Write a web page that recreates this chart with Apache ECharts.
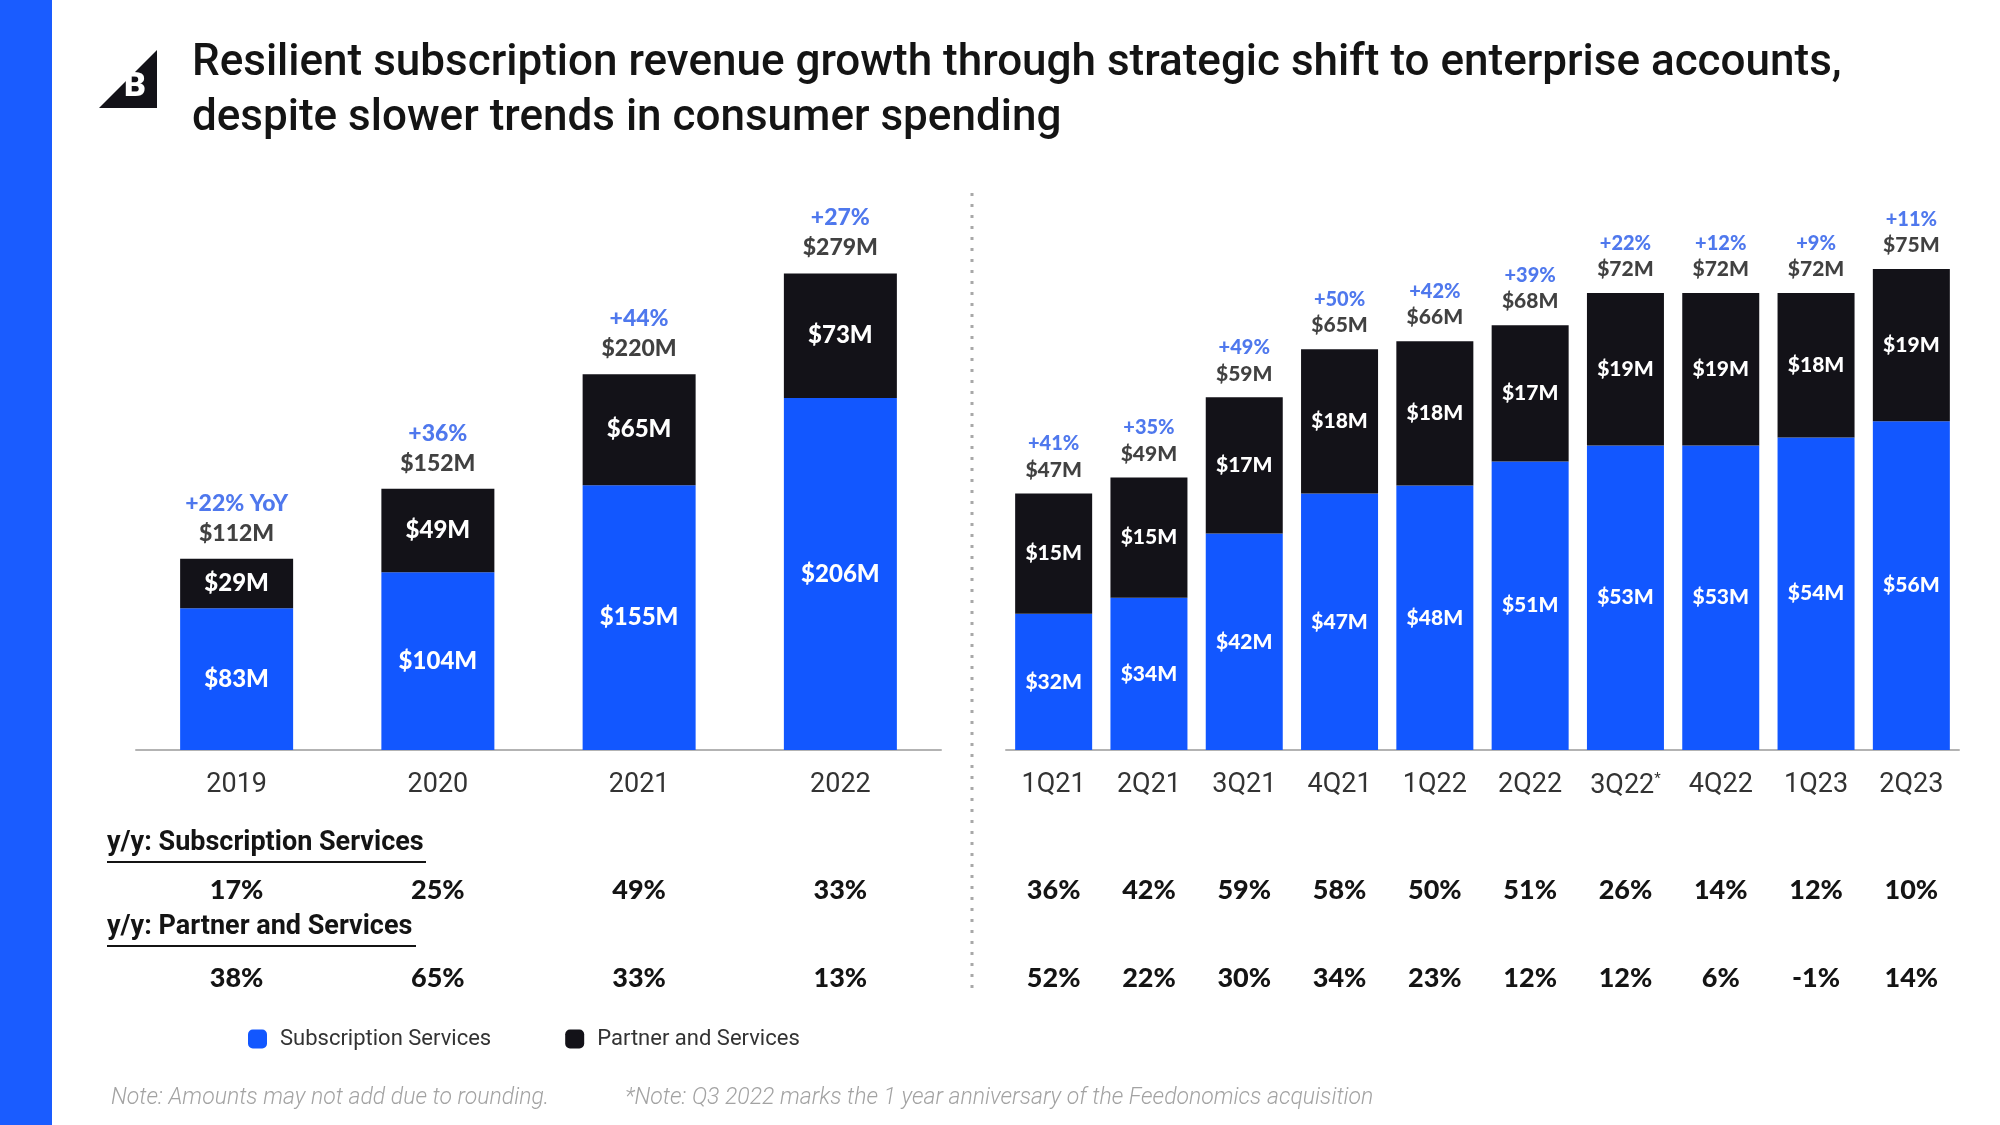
<!DOCTYPE html>
<html>
<head>
<meta charset="utf-8">
<script src="https://cdn.jsdelivr.net/npm/echarts@6/dist/echarts.min.js"></script>
<style>
html,body{margin:0;padding:0;background:#fff;}
#c{width:2000px;height:1125px;}
</style>
</head>
<body>
<div id="c"></div>
<script>
// ---------- data ----------
const yearCats = ['2019', '2020', '2021', '2022'];
const yearSub = [83, 104, 155, 206];
const yearPartner = [29, 49, 65, 73];
const yearTotal = [112, 152, 220, 279];
const yearGrowth = ['+22% YoY', '+36%', '+44%', '+27%'];
const yearSubGrowth = ['17%', '25%', '49%', '33%'];
const yearPartnerGrowth = ['38%', '65%', '33%', '13%'];

const qCats = ['1Q21', '2Q21', '3Q21', '4Q21', '1Q22', '2Q22', '3Q22', '4Q22', '1Q23', '2Q23'];
const qSub = [32, 34, 42, 47, 48, 51, 53, 53, 54, 56];
const qPartner = [15, 15, 17, 18, 18, 17, 19, 19, 18, 19];
const qTotal = [47, 49, 59, 65, 66, 68, 72, 72, 72, 75];
const qGrowth = ['+41%', '+35%', '+49%', '+50%', '+42%', '+39%', '+22%', '+12%', '+9%', '+11%'];
const qSubGrowth = ['36%', '42%', '59%', '58%', '50%', '51%', '26%', '14%', '12%', '10%'];
const qPartnerGrowth = ['52%', '22%', '30%', '34%', '23%', '12%', '12%', '6%', '-1%', '14%'];

// ---------- style ----------
const BLUE = '#1257ff';
const BLACK = '#131218';
const GBLUE = '#2356e8';
const FONT = 'Lato, Roboto, sans-serif';
const AXIS_Y = 750;

const chart = echarts.init(document.getElementById('c'), null, {renderer: 'canvas'});

function rowAxis(grid, data, centerY, fs) {
  return {
    type: 'category', gridIndex: grid, data: data, position: 'bottom',
    offset: centerY - AXIS_Y - fs / 2,
    axisLine: {show: false}, axisTick: {show: false},
    axisLabel: {margin: 0, fontSize: fs, fontWeight: 900, color: '#141414', fontFamily: FONT, interval: 0}
  };
}

function money(v) { return '$' + v + 'M'; }

const insideLabel = fs => ({
  show: true, position: 'inside', formatter: p => money(p.value),
  color: '#fff', fontSize: fs, fontWeight: 900, fontFamily: FONT
});

const option = {
  animation: false,
  backgroundColor: '#ffffff',
  title: {
    text: 'Resilient subscription revenue growth through strategic shift to enterprise accounts,\ndespite slower trends in consumer spending',
    left: 187, top: 31,
    textStyle: {fontFamily: 'Roboto, sans-serif', fontSize: 44, fontWeight: 500, color: '#141414', lineHeight: 55}
  },
  legend: {
    left: 243, top: 1023,
    itemWidth: 19, itemHeight: 19, itemGap: 74, icon: 'roundRect',
    data: ['Subscription Services', 'Partner and Services'],
    textStyle: {fontFamily: 'Roboto, sans-serif', fontSize: 22, color: '#333', padding: [0, 0, 0, 8]}
  },
  grid: [
    {left: 136, width: 805, top: AXIS_Y - 521, height: 521},
    {left: 1006, width: 953, top: AXIS_Y - 521, height: 521}
  ],
  xAxis: [
    {
      type: 'category', gridIndex: 0, data: yearCats,
      axisLine: {lineStyle: {color: '#b3b3b3', width: 2}}, axisTick: {show: false},
      axisLabel: {margin: 22, fontSize: 27, color: '#333', fontFamily: 'Roboto, sans-serif'}
    },
    {
      type: 'category', gridIndex: 1, data: qCats,
      axisLine: {lineStyle: {color: '#b3b3b3', width: 2}}, axisTick: {show: false},
      axisLabel: {
        margin: 22, fontSize: 27, color: '#333', fontFamily: 'Roboto, sans-serif', interval: 0,
        formatter: v => v === '3Q22' ? v + '{s|*}' : v,
        rich: {s: {fontSize: 15, verticalAlign: 'top', color: '#333', padding: [0, 0, 14, 0]}}
      }
    },
    rowAxis(0, yearSubGrowth, 890, 27),
    rowAxis(0, yearPartnerGrowth, 978, 27),
    rowAxis(1, qSubGrowth, 890, 27),
    rowAxis(1, qPartnerGrowth, 978, 27)
  ],
  yAxis: [
    {type: 'value', gridIndex: 0, min: 0, max: 305, show: false, splitLine: {show: false}},
    {type: 'value', gridIndex: 1, min: 15, max: 80, show: false, splitLine: {show: false}}
  ],
  series: [
    {
      name: 'Subscription Services', type: 'bar', stack: 'y', xAxisIndex: 0, yAxisIndex: 0,
      data: yearSub, barWidth: 113, itemStyle: {color: BLUE}, label: insideLabel(24)
    },
    {
      name: 'Partner and Services', type: 'bar', stack: 'y', xAxisIndex: 0, yAxisIndex: 0,
      data: yearPartner, barWidth: 113, itemStyle: {color: BLACK}, label: insideLabel(24)
    },
    {
      type: 'scatter', xAxisIndex: 0, yAxisIndex: 0, symbolSize: 1, itemStyle: {color: 'rgba(0,0,0,0)'},
      data: yearSub.map((v, i) => v + yearPartner[i]),
      label: {
        show: true, position: 'top', distance: 10,
        fontWeight: 900, fontFamily: FONT, fontSize: 23,
        formatter: p => '{g|' + yearGrowth[p.dataIndex] + '}\n{t|' + money(yearTotal[p.dataIndex]) + '}',
        rich: {
          g: {color: GBLUE, fontSize: 23, fontWeight: 900, fontFamily: FONT, lineHeight: 30},
          t: {color: '#111', fontSize: 23, fontWeight: 900, fontFamily: FONT, lineHeight: 30}
        }
      }
    },
    {
      name: 'Subscription Services', type: 'bar', stack: 'q', xAxisIndex: 1, yAxisIndex: 1,
      data: qSub, barWidth: 77, itemStyle: {color: BLUE}, label: insideLabel(21)
    },
    {
      name: 'Partner and Services', type: 'bar', stack: 'q', xAxisIndex: 1, yAxisIndex: 1,
      data: qPartner, barWidth: 77, itemStyle: {color: BLACK}, label: insideLabel(21)
    },
    {
      type: 'scatter', xAxisIndex: 1, yAxisIndex: 1, symbolSize: 1, itemStyle: {color: 'rgba(0,0,0,0)'},
      data: qSub.map((v, i) => v + qPartner[i]),
      label: {
        show: true, position: 'top', distance: 10,
        fontWeight: 900, fontFamily: FONT, fontSize: 20,
        formatter: p => '{g|' + qGrowth[p.dataIndex] + '}\n{t|' + money(qTotal[p.dataIndex]) + '}',
        rich: {
          g: {color: GBLUE, fontSize: 20, fontWeight: 900, fontFamily: FONT, lineHeight: 26},
          t: {color: '#111', fontSize: 21, fontWeight: 900, fontFamily: FONT, lineHeight: 26}
        }
      }
    }
  ],
  graphic: [
    {type: 'rect', left: 0, top: 0, shape: {x: 0, y: 0, width: 52, height: 1125}, style: {fill: '#1a5cff'}, silent: true},
    {type: 'polygon', shape: {points: [[157, 50], [99, 108], [157, 108]]}, style: {fill: BLACK}},
    {type: 'text', left: 124, top: 70, style: {text: 'B', fill: '#fff', font: '900 34px Roboto, sans-serif'}},
    {type: 'line', shape: {x1: 972, y1: 193, x2: 972, y2: 992}, style: {stroke: '#a8a8a8', lineWidth: 3, lineDash: [3, 8]}},
    {type: 'text', left: 107, top: 830, style: {text: 'y/y: Subscription Services', fill: '#141414', font: 'bold 27px Roboto, sans-serif'}},
    {type: 'line', shape: {x1: 107, y1: 862, x2: 426, y2: 862}, style: {stroke: '#141414', lineWidth: 2}},
    {type: 'text', left: 107, top: 914, style: {text: 'y/y: Partner and Services', fill: '#141414', font: 'bold 27px Roboto, sans-serif'}},
    {type: 'line', shape: {x1: 107, y1: 946, x2: 416, y2: 946}, style: {stroke: '#141414', lineWidth: 2}},
    {type: 'text', left: 111, top: 1087, style: {text: 'Note: Amounts may not add due to rounding.', fill: '#a3a3a3', font: 'italic 300 23px Roboto, sans-serif'}},
    {type: 'text', left: 625, top: 1087, style: {text: '*Note: Q3 2022 marks the 1 year anniversary of the Feedonomics acquisition', fill: '#a3a3a3', font: 'italic 300 23px Roboto, sans-serif'}}
  ]
};
chart.setOption(option);
</script>
</body>
</html>
